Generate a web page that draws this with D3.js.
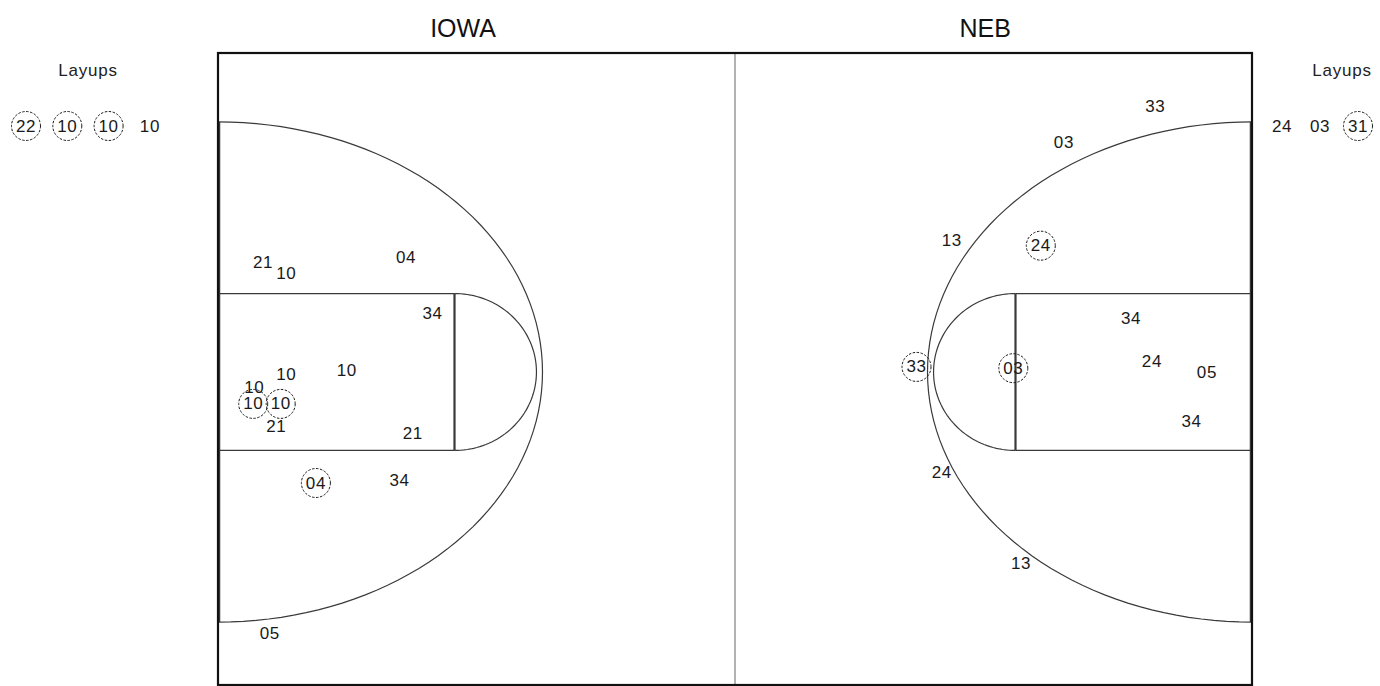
<!DOCTYPE html>
<html>
<head>
<meta charset="utf-8">
<script src="https://cdn.jsdelivr.net/npm/d3@7"></script>
<style>
  body { margin: 0; background: #fff; }
  svg { display: block; font-family: "Liberation Sans", Arial, sans-serif; }
  .line { fill: none; stroke: #3a3a3a; stroke-width: 1.2; }
  .shot { font-size: 17px; fill: #1a1a1a; text-anchor: middle; dominant-baseline: central; letter-spacing: 0.6px; }
  .made { fill: none; stroke: #1a1a1a; stroke-width: 1; stroke-dasharray: 2.5,1.5; }
</style>
</head>
<body>
<svg id="chart"></svg>
<script>
// teams + layup lists (made = circled)
const teams = ["IOWA", "NEB"];
const iowaLayups = [{p: "22", made: true}, {p: "10", made: true}, {p: "10", made: true}, {p: "10", made: false}];
const nebLayups = [{p: "24", made: false}, {p: "03", made: false}, {p: "31", made: true}];

// shot locations in court feet (x along 94ft length, y across 50ft)
const iowaShots = [
    {p: "21", x: 4.1, y: 16.4, made: false},
    {p: "10", x: 6.2, y: 17.3, made: false},
    {p: "04", x: 17.1, y: 16.0, made: false},
    {p: "34", x: 19.5, y: 20.4, made: false},
    {p: "10", x: 6.2, y: 25.2, made: false},
    {p: "10", x: 11.7, y: 24.9, made: false},
    {p: "10", x: 3.3, y: 26.2, made: false},
    {p: "10", x: 3.2, y: 27.5, made: true},
    {p: "10", x: 5.7, y: 27.5, made: true},
    {p: "21", x: 5.3, y: 29.3, made: false},
    {p: "21", x: 17.7, y: 29.8, made: false},
    {p: "04", x: 8.9, y: 33.7, made: true},
    {p: "34", x: 16.5, y: 33.5, made: false},
    {p: "05", x: 4.7, y: 45.5, made: false}
];
const nebShots = [
    {p: "33", x: 85.2, y: 4.2, made: false},
    {p: "03", x: 76.9, y: 7.0, made: false},
    {p: "13", x: 66.7, y: 14.7, made: false},
    {p: "24", x: 74.8, y: 15.1, made: true},
    {p: "34", x: 83.0, y: 20.8, made: false},
    {p: "33", x: 63.5, y: 24.6, made: true},
    {p: "03", x: 72.3, y: 24.7, made: true},
    {p: "24", x: 84.9, y: 24.2, made: false},
    {p: "05", x: 89.9, y: 25.0, made: false},
    {p: "34", x: 88.5, y: 28.9, made: false},
    {p: "24", x: 65.8, y: 32.9, made: false},
    {p: "13", x: 73.0, y: 40.0, made: false}
];

// court dimensions (feet)
const courtLen = 94, courtWid = 50;
const threeRx = 29.5, threeRy = 19.6;
const keyLen = 21.5, keyHalf = 6.15;
const ftRx = 7.45;

const W = 1380, H = 686;
const svg = d3.select("#chart").attr("width", W).attr("height", H);

const x = d3.scaleLinear().domain([0, courtLen]).range([218, 1252]);
const y = d3.scaleLinear().domain([0, courtWid]).range([53, 691]);
const cy = courtWid / 2;

const court = svg.append("g");

// half-ellipse path from baseline bx, bulging by dir
function halfEllipse(bx, rx, ry, dir) {
    const p = d3.path();
    const n = 80;
    for (let i = 0; i <= n; i++) {
        const t = -Math.PI / 2 + Math.PI * i / n;
        const px = x(bx + dir * rx * Math.cos(t));
        const py = y(cy + ry * Math.sin(t));
        if (i === 0) p.moveTo(px, py); else p.lineTo(px, py);
    }
    return p.toString();
}

[{bx: 0, dir: 1}, {bx: courtLen, dir: -1}].forEach(s => {
    // three point arc
    court.append("path").attr("class", "line").attr("d", halfEllipse(s.bx, threeRx, threeRy, s.dir));
    // key
    const kx = s.bx + s.dir * keyLen;
    court.append("line").attr("class", "line")
        .attr("x1", x(s.bx)).attr("x2", x(kx)).attr("y1", y(cy - keyHalf)).attr("y2", y(cy - keyHalf));
    court.append("line").attr("class", "line")
        .attr("x1", x(s.bx)).attr("x2", x(kx)).attr("y1", y(cy + keyHalf)).attr("y2", y(cy + keyHalf));
    court.append("line").attr("class", "line").style("stroke-width", 2.2)
        .attr("x1", x(kx)).attr("x2", x(kx)).attr("y1", y(cy - keyHalf)).attr("y2", y(cy + keyHalf));
    // free throw semicircle
    court.append("path").attr("class", "line").attr("d", halfEllipse(kx, ftRx, keyHalf, s.dir));
    // thicker baseline segment under arc
    court.append("line").attr("class", "line").style("stroke-width", 1.5)
        .attr("x1", x(s.bx) + s.dir * 1.5).attr("x2", x(s.bx) + s.dir * 1.5)
        .attr("y1", y(cy - threeRy)).attr("y2", y(cy + threeRy));
});

// midcourt line
court.append("line").attr("x1", x(courtLen / 2)).attr("x2", x(courtLen / 2))
    .attr("y1", y(0)).attr("y2", H).attr("stroke", "#999").attr("stroke-width", 1.5);

// outer border
court.append("rect").attr("x", x(0)).attr("y", y(0))
    .attr("width", x(courtLen) - x(0)).attr("height", 685 - y(0))
    .attr("fill", "none").attr("stroke", "#111").attr("stroke-width", 2.2);

// titles
svg.selectAll(".title").data(teams).enter().append("text")
    .attr("x", (d, i) => i === 0 ? x(courtLen * 0.237) : x(courtLen * 0.742))
    .attr("y", 37)
    .attr("text-anchor", "middle")
    .style("font-size", "25px").style("fill", "#111")
    .text(d => d);

function drawShots(data) {
    const g = svg.append("g");
    const s = g.selectAll("g").data(data).enter().append("g")
        .attr("transform", d => `translate(${x(d.x)},${y(d.y)})`);
    s.filter(d => d.made).append("circle").attr("class", "made").attr("r", 14.5);
    s.append("text").attr("class", "shot").text(d => d.p);
}
drawShots(iowaShots);
drawShots(nebShots);

// layup boxes
function drawLayups(list, cx, startX, step) {
    svg.append("text").attr("x", cx).attr("y", 76).attr("text-anchor", "middle")
        .style("font-size", "17px").style("letter-spacing", "0.8px").style("fill", "#222").text("Layups");
    const lx = d3.scalePoint().domain(d3.range(list.length)).range([startX, startX + step * (list.length - 1)]);
    const s = svg.append("g").selectAll("g").data(list).enter().append("g")
        .attr("transform", (d, i) => `translate(${lx(i)},126)`);
    s.filter(d => d.made).append("circle").attr("class", "made").attr("r", 14.5);
    s.append("text").attr("class", "shot").text(d => d.p);
}
drawLayups(iowaLayups, 88, 26, 41.3);
drawLayups(nebLayups, 1342, 1282, 38);
</script>
</body>
</html>
